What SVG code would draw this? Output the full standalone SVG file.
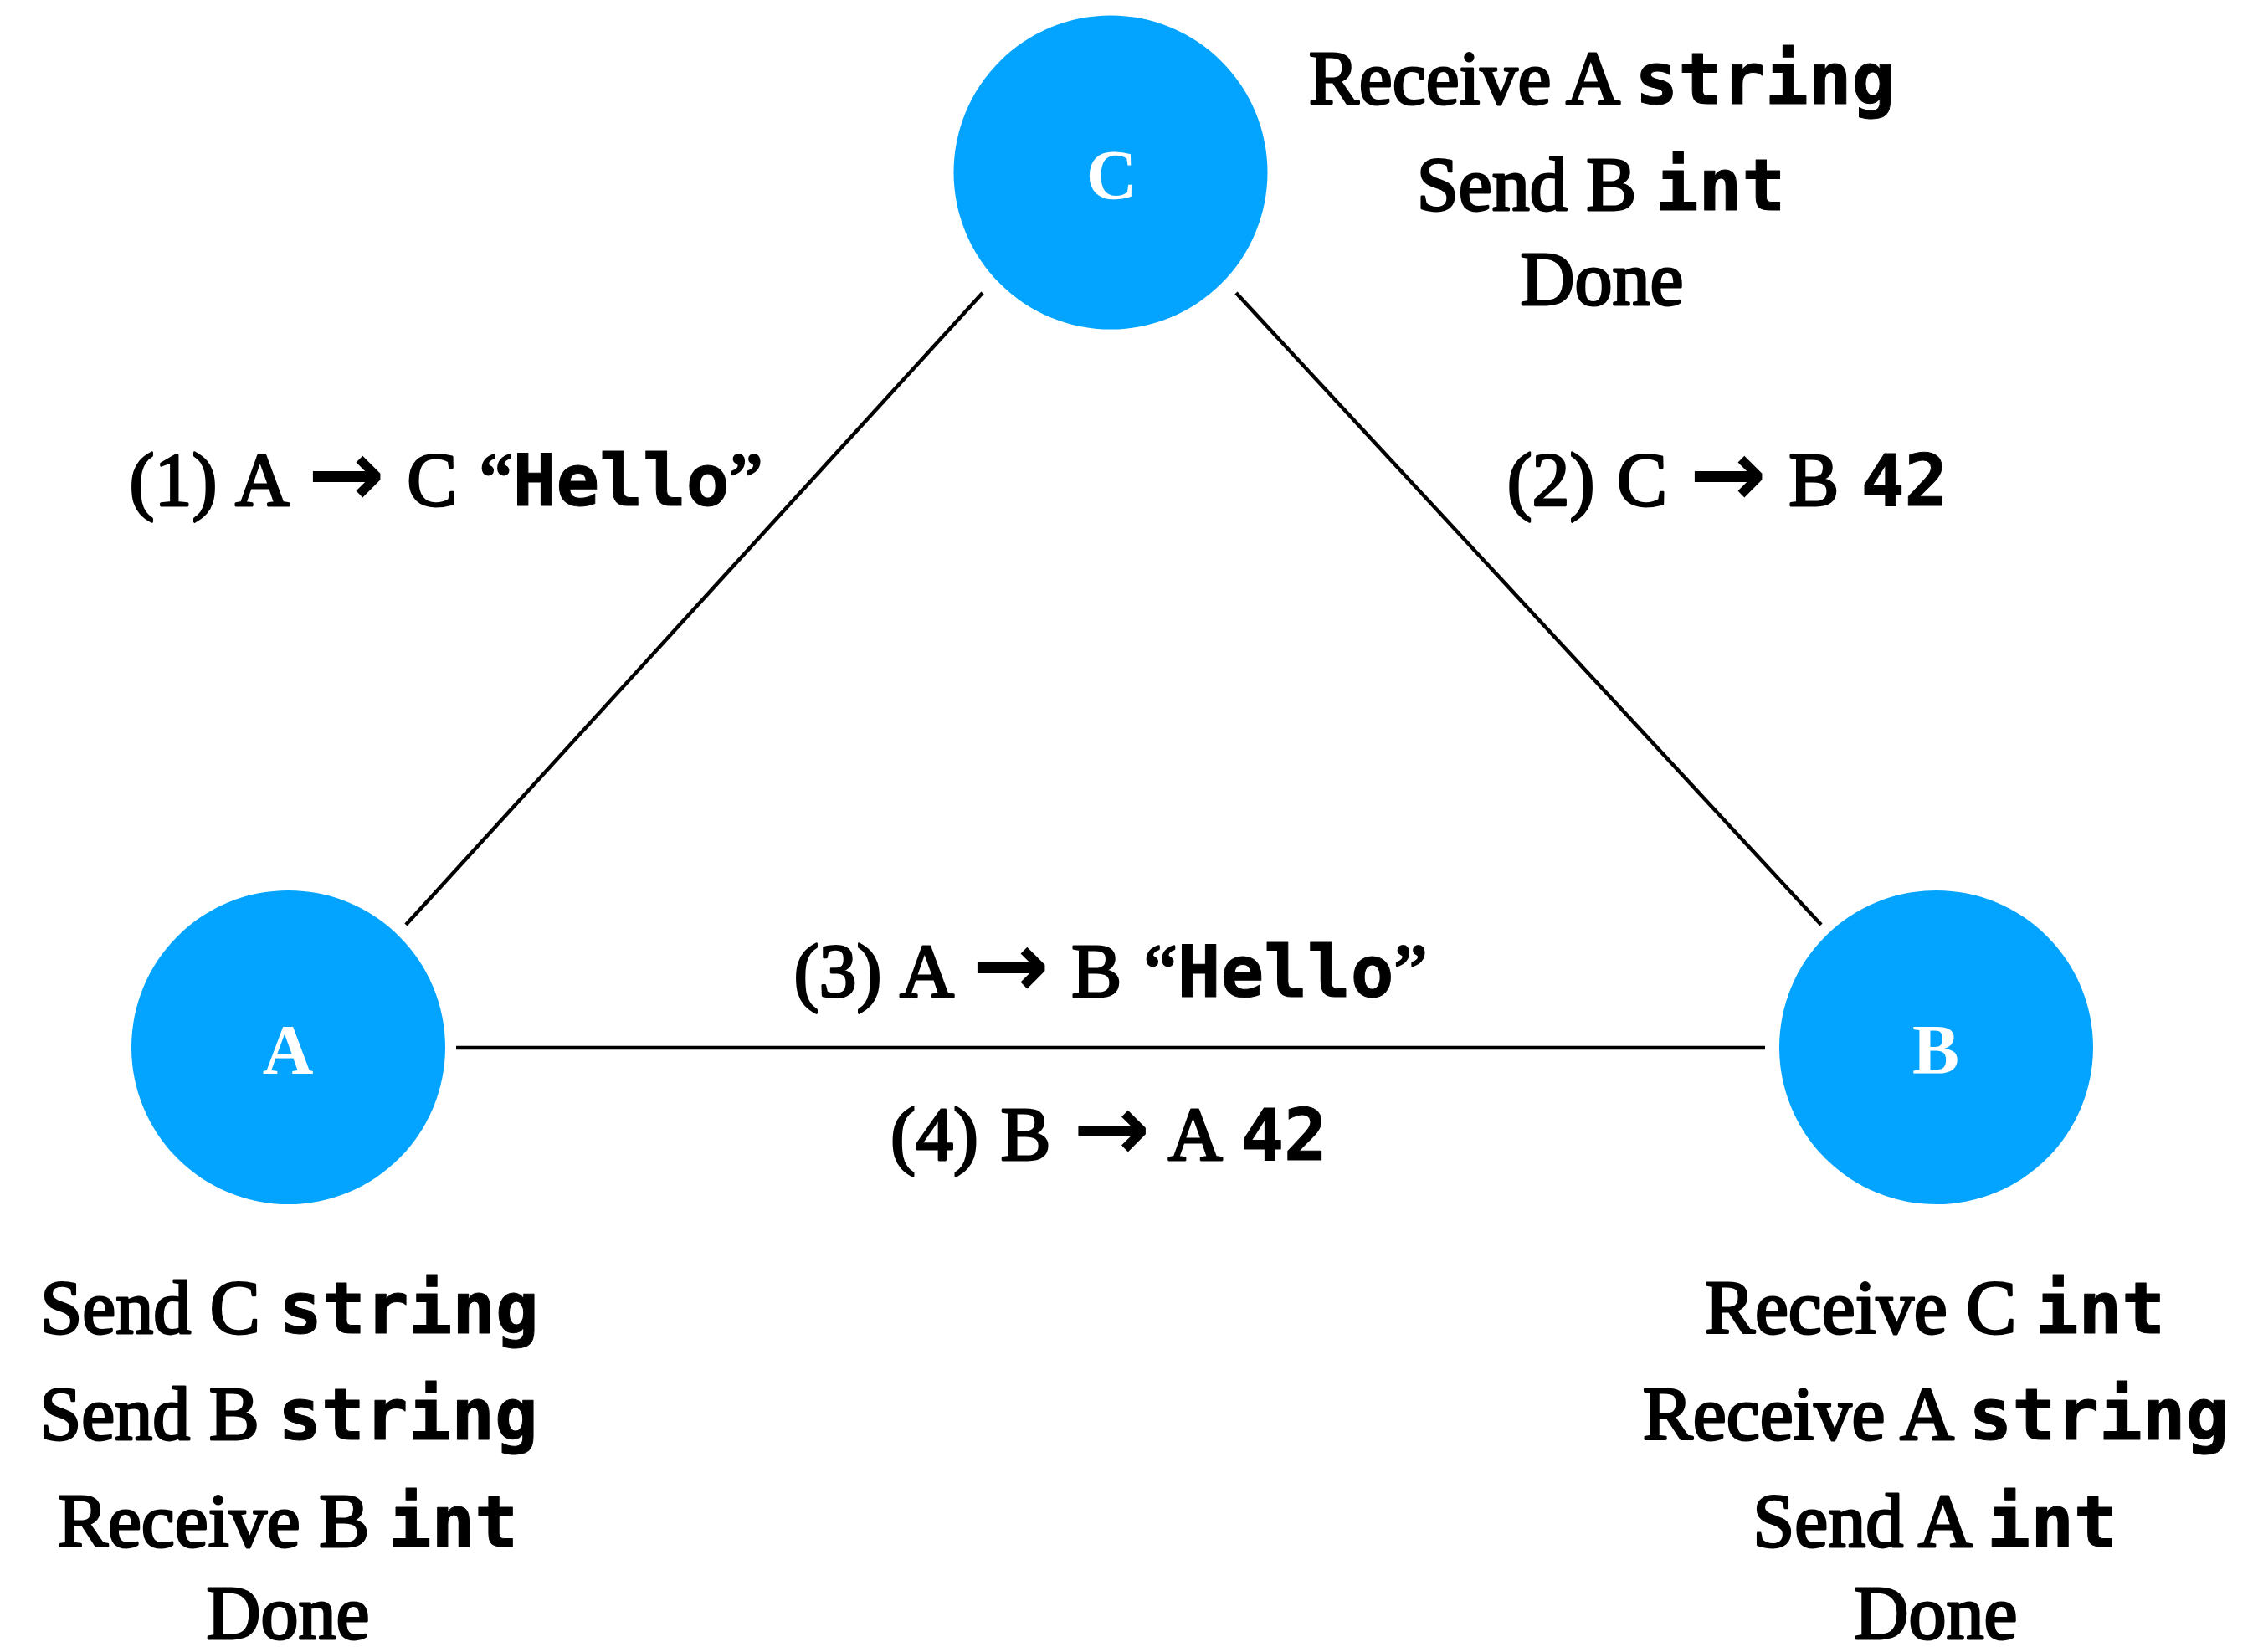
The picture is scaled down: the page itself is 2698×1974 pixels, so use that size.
<svg xmlns="http://www.w3.org/2000/svg" width="2698" height="1974" viewBox="0 0 2698 1974">
<style>
.lbl { font-family: "Liberation Serif", "DejaVu Serif", serif; font-weight: normal; font-size: 90px; fill: #000; stroke: #000; stroke-width: 2.8px; stroke-linejoin: round; text-anchor: middle; }
.mono { font-family: "DejaVu Sans Mono", "Liberation Mono", monospace; font-weight: bold; font-size: 86px; stroke-width: 1px; }
.arr { font-family: "DejaVu Sans", sans-serif; font-weight: bold; font-size: 110px; stroke-width: 0; }
.node circle { fill: #03a4ff; }
.node .name { fill: #fff; font-family: "Liberation Serif", "DejaVu Serif", serif; font-weight: bold; font-size: 84px; text-anchor: middle; }
.edge { stroke: #000; stroke-width: 4.5; fill: none; }
</style>
<rect width="2698" height="1974" fill="#fff"/>
<g id="connectors">
  <line class="edge" x1="1174" y1="350" x2="485" y2="1105"/>
  <line class="edge" x1="1477" y1="350" x2="2176" y2="1105"/>
  <line class="edge" x1="545" y1="1252" x2="2109" y2="1252"/>
</g>
<g id="edge-labels">
  <text class="lbl" x="533" y="604" word-spacing="4">(1) A <tspan class="arr">→</tspan> C “<tspan class="mono">Hello</tspan>”</text>
  <text class="lbl" x="2064" y="604" word-spacing="4">(2) C <tspan class="arr">→</tspan> B <tspan class="mono">42</tspan></text>
  <text class="lbl" x="1327" y="1191" word-spacing="4">(3) A <tspan class="arr">→</tspan> B “<tspan class="mono">Hello</tspan>”</text>
  <text class="lbl" x="1325" y="1386" word-spacing="4">(4) B <tspan class="arr">→</tspan> A <tspan class="mono">42</tspan></text>
</g>
<g id="node-C" class="node">
  <circle cx="1327" cy="206" r="187.5"/>
  <text class="name" x="1328" y="238">C</text>
  <text class="lbl" x="1914" y="124">Receive A <tspan class="mono">string</tspan></text>
  <text class="lbl" x="1913" y="251">Send B <tspan class="mono">int</tspan></text>
  <text class="lbl" x="1914" y="364">Done</text>
</g>
<g id="node-A" class="node">
  <circle cx="344.5" cy="1251.5" r="187.5"/>
  <text class="name" x="344" y="1283">A</text>
  <text class="lbl" x="346" y="1593">Send C <tspan class="mono">string</tspan></text>
  <text class="lbl" x="345" y="1720">Send B <tspan class="mono">string</tspan></text>
  <text class="lbl" x="344" y="1848">Receive B <tspan class="mono">int</tspan></text>
  <text class="lbl" x="344" y="1958">Done</text>
</g>
<g id="node-B" class="node">
  <circle cx="2313.5" cy="1251.5" r="187.5"/>
  <text class="name" x="2313" y="1283">B</text>
  <text class="lbl" x="2312" y="1593">Receive C <tspan class="mono">int</tspan></text>
  <text class="lbl" x="2313" y="1720">Receive A <tspan class="mono">string</tspan></text>
  <text class="lbl" x="2312" y="1848">Send A <tspan class="mono">int</tspan></text>
  <text class="lbl" x="2313" y="1958">Done</text>
</g>
</svg>
